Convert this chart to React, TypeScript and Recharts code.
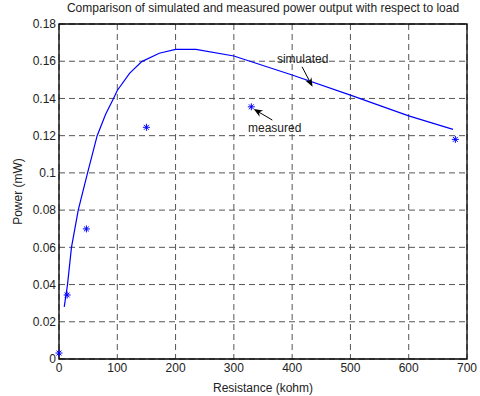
import React from 'react'
import {
  ComposedChart,
  Line,
  Scatter,
  XAxis,
  YAxis,
  CartesianGrid,
  ReferenceArea,
  ReferenceLine,
  ReferenceDot,
} from 'recharts'

// simulated curve (resistance kohm, power mW)
const simX = [9, 14.6, 21.4, 33, 49, 65.5, 80, 93.5, 100, 121, 142, 172, 200, 235, 300, 400, 500, 600, 676]
const simP = [0.028, 0.04, 0.06, 0.08, 0.1, 0.12, 0.1315, 0.14, 0.1443, 0.1535, 0.1598, 0.1643, 0.1664, 0.1664, 0.1628, 0.1526, 0.1418, 0.1306, 0.1234]

// measured points
const measX = [0, 14, 47, 150, 330, 680]
const measP = [0.0032, 0.0344, 0.0699, 0.1245, 0.1355, 0.118]

const xTicks = [0, 100, 200, 300, 400, 500, 600, 700]
const yTicks = [0, 0.02, 0.04, 0.06, 0.08, 0.1, 0.12, 0.14, 0.16, 0.18]

const simData = simX.map((x, i) => ({ x, p: simP[i] }))
const measData = measX.map((x, i) => ({ x, p: measP[i] }))

const FONT = 'Arial, "Liberation Sans", Helvetica, sans-serif'
const FS = 12

const Star = (props: any) => {
  const { cx, cy } = props
  const r = 3.5
  const d = r * 0.7
  return (
    <g stroke="#0000ff" strokeWidth={1}>
      <line x1={cx - r} y1={cy} x2={cx + r} y2={cy} />
      <line x1={cx} y1={cy - r} x2={cx} y2={cy + r} />
      <line x1={cx - d} y1={cy - d} x2={cx + d} y2={cy + d} />
      <line x1={cx - d} y1={cy + d} x2={cx + d} y2={cy - d} />
    </g>
  )
}

const Arrow = (props: any) => {
  const { x1, y1, x2, y2 } = props
  const ang = Math.atan2(y2 - y1, x2 - x1)
  const len = 9
  const w = 3.5
  const bx = x2 - len * Math.cos(ang)
  const by = y2 - len * Math.sin(ang)
  const nx = -Math.sin(ang)
  const ny = Math.cos(ang)
  const mx = x2 - len * 0.7 * Math.cos(ang)
  const my = y2 - len * 0.7 * Math.sin(ang)
  return (
    <g>
      <line x1={x1} y1={y1} x2={mx} y2={my} stroke="#000" strokeWidth={1} />
      <polygon
        points={`${x2},${y2} ${bx + nx * w},${by + ny * w} ${mx},${my} ${bx - nx * w},${by - ny * w}`}
        fill="#000"
      />
    </g>
  )
}

const noteText = (txt: string) => (props: any) => (
  <text
    x={props.cx}
    y={props.cy}
    textAnchor="middle"
    dominantBaseline="central"
    fontFamily={FONT}
    fontSize={FS}
    fill="#222"
  >
    {txt}
  </text>
)

const YLabel = (props: any) => {
  const { viewBox } = props
  const cy = viewBox.y + viewBox.height / 2
  return (
    <text
      x={18}
      y={cy}
      transform={`rotate(-90, 18, ${cy})`}
      textAnchor="middle"
      dominantBaseline="central"
      fontFamily={FONT}
      fontSize={FS}
      fill="#222"
    >
      Power (mW)
    </text>
  )
}

export default function App() {
  return (
    <div style={{ position: 'absolute', left: 0, top: 0, width: 480, height: 396, background: '#fff' }}>
      <div
        style={{
          position: 'absolute',
          left: 59,
          width: 408,
          top: 1,
          textAlign: 'center',
          fontFamily: FONT,
          fontSize: FS,
          color: '#222',
          whiteSpace: 'nowrap',
        }}
      >
        Comparison of simulated and measured power output with respect to load
      </div>
      <ComposedChart width={480} height={396} margin={{ top: 24, right: 13, bottom: 0, left: 0 }}>
        <CartesianGrid stroke="#555" strokeDasharray="6 4" strokeWidth={1} />
        <XAxis
          type="number"
          dataKey="x"
          domain={[0, 700]}
          ticks={xTicks}
          height={37}
          axisLine={false}
          tickLine={false}
          tickSize={0}
          tickMargin={4}
          tick={{ fontSize: FS, fill: '#222', fontFamily: FONT }}
          label={{
            value: 'Resistance (kohm)',
            position: 'insideBottom',
            offset: 4,
            fontSize: FS,
            fill: '#222',
            fontFamily: FONT,
          }}
        />
        <YAxis
          type="number"
          domain={[0, 0.18]}
          ticks={yTicks}
          width={59}
          axisLine={false}
          tickLine={false}
          tickSize={0}
          tickMargin={3}
          tickFormatter={(v: number) => String(+v.toFixed(2))}
          tick={{ fontSize: FS, fill: '#222', fontFamily: FONT }}
          label={<YLabel />}
        />
        <ReferenceArea x1={0} x2={700} y1={0} y2={0.18} fill="none" stroke="#000" strokeWidth={1.3} />
        <Line
          data={simData}
          dataKey="p"
          type="linear"
          stroke="#0000ff"
          strokeWidth={1.2}
          dot={false}
          activeDot={false}
          isAnimationActive={false}
        />
        <Scatter data={measData} dataKey="p" shape={<Star />} isAnimationActive={false} />
        <ReferenceDot x={418} y={0.1612} r={0} shape={noteText('simulated')} />
        <ReferenceLine segment={[{ x: 417, y: 0.157 }, { x: 435, y: 0.1463 }]} shape={Arrow} />
        <ReferenceDot x={370} y={0.124} r={0} shape={noteText('measured')} />
        <ReferenceLine segment={[{ x: 366, y: 0.1284 }, { x: 334, y: 0.1343 }]} shape={Arrow} />
      </ComposedChart>
    </div>
  )
}
